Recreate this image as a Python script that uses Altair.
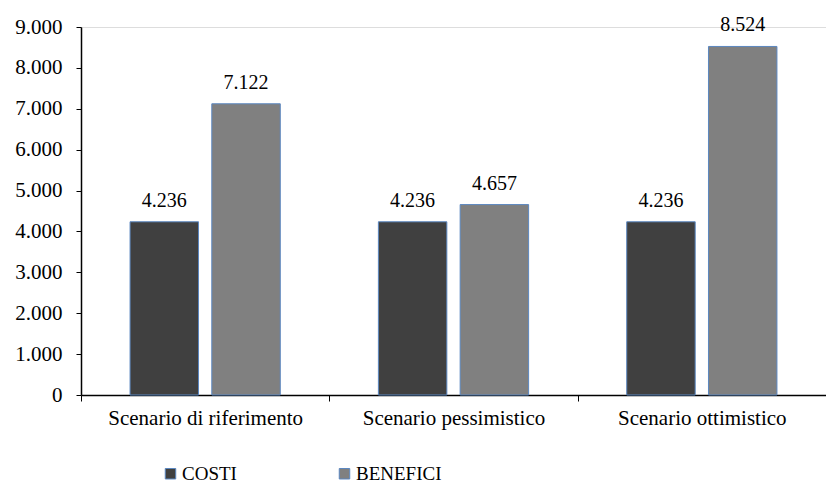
import altair as alt
import pandas as pd

scenari = ["Scenario di riferimento", "Scenario pessimistico", "Scenario ottimistico"]
serie = ["COSTI", "BENEFICI"]
costi = [4236, 4236, 4236]
benefici = [7122, 4657, 8524]
colori = ["#404040", "#808080"]

rows = []
for i, s in enumerate(scenari):
    rows.append({"scenario": s, "serie": "COSTI", "valore": costi[i]})
    rows.append({"scenario": s, "serie": "BENEFICI", "valore": benefici[i]})
df = pd.DataFrame(rows)
df["etichetta"] = df["valore"].map(lambda v: f"{v:,}".replace(",", "."))

FONT = "Liberation Serif"

x = alt.X("scenario:N", sort=scenari, title=None,
          scale=alt.Scale(paddingInner=0, paddingOuter=0),
          axis=alt.Axis(labelAngle=0, tickBand="extent", domainColor="black",
                        domainWidth=1.5, tickColor="black", tickSize=6,
                        labelFont=FONT, labelFontSize=21, labelColor="black",
                        labelPadding=6, labelLimit=400))
xo = alt.XOffset("serie:N", sort=serie,
                 scale=alt.Scale(paddingInner=0.1625, paddingOuter=0.6))
y = alt.Y("valore:Q", title=None,
          scale=alt.Scale(domain=[0, 9000]),
          axis=alt.Axis(values=list(range(0, 9001, 1000)), grid=False,
                        domainColor="black", domainWidth=1.5, tickColor="black",
                        tickSize=5, labelFont=FONT, labelFontSize=21,
                        labelColor="black", labelPadding=14,
                        labelExpr="replace(format(datum.value, ','), ',', '.')"))

base = alt.Chart(df).encode(x=x, xOffset=xo)

bars = base.mark_bar(stroke="#5B87C0", strokeWidth=1).encode(
    y=y,
    color=alt.Color("serie:N", sort=serie,
                    scale=alt.Scale(domain=serie, range=colori),
                    legend=alt.Legend(title=None, orient="none", direction="horizontal",
                                      legendX=80, legendY=437,
                                      symbolType="square", symbolSize=110,
                                      symbolStrokeColor="#5B87C0", symbolStrokeWidth=1,
                                      labelFont=FONT, labelFontSize=19,
                                      labelColor="black", labelOffset=2,
                                      columnPadding=98)),
)

text = base.mark_text(baseline="alphabetic", dy=-15, font=FONT, fontSize=20,
                      color="black").encode(y="valore:Q", text="etichetta:N")

chart = (bars + text).properties(
    width=745, height=368,
    autosize=alt.AutoSizeParams(type="none"),
    padding={"left": 73, "top": 19, "right": 0, "bottom": 91},
).configure_view(stroke=None).configure(background="white", font=FONT)

chart.save("out.html", embed_options={"renderer": "svg", "actions": False})
